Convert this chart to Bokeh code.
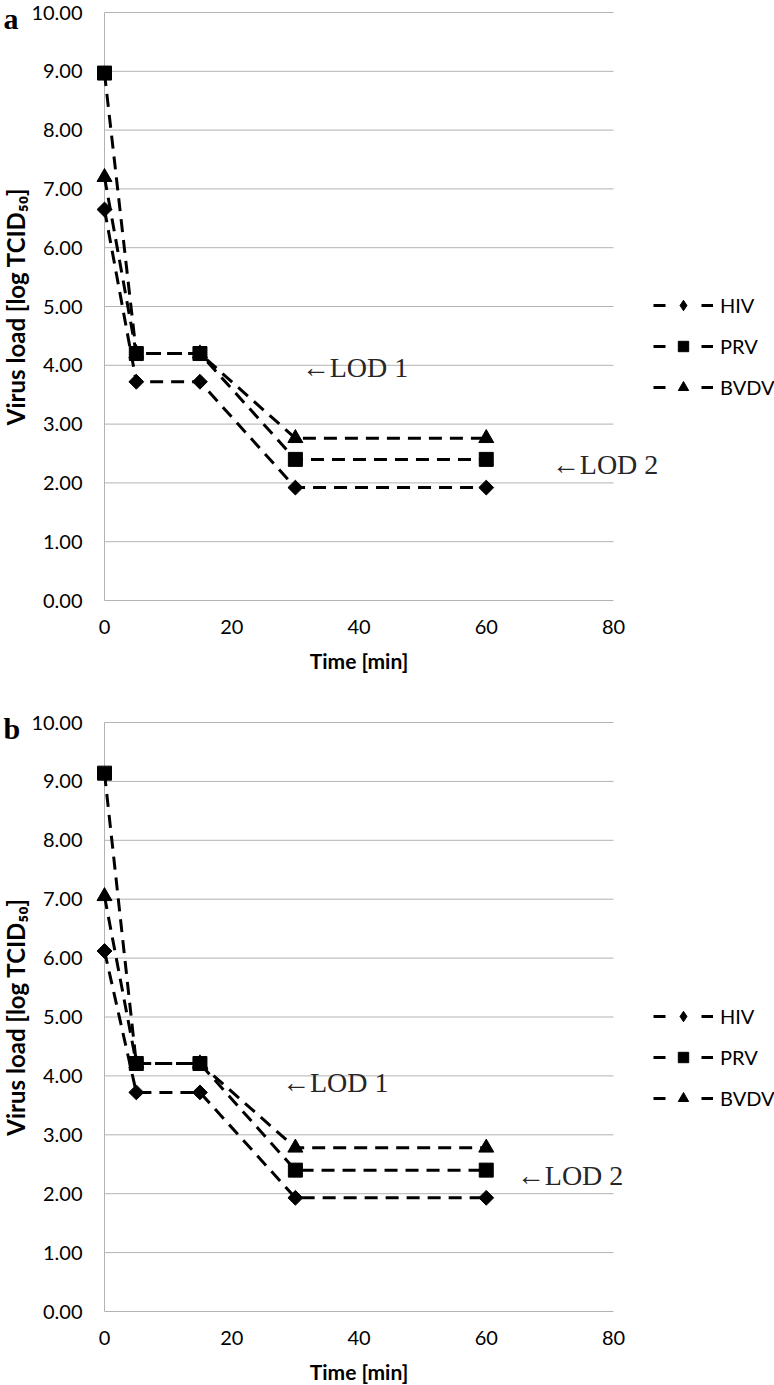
import math
from bokeh.plotting import figure
from bokeh.layouts import column
from bokeh.models import Legend, LegendItem, Label, Range1d
from bokeh.core.properties import value
from bokeh.embed import file_html
from bokeh.resources import INLINE

# ---------------- data ----------------
time_min = [0, 5, 15, 30, 60]
series_names = ["HIV", "PRV", "BVDV"]

a_hiv = [6.65, 3.72, 3.72, 1.92, 1.92]
a_prv = [8.97, 4.20, 4.20, 2.40, 2.40]
a_bvdv = [7.20, 4.20, 4.20, 2.76, 2.76]

b_hiv = [6.12, 3.72, 3.72, 1.93, 1.93]
b_prv = [9.14, 4.21, 4.21, 2.40, 2.40]
b_bvdv = [7.05, 4.21, 4.21, 2.78, 2.78]

y_ticks = [0, 1, 2, 3, 4, 5, 6, 7, 8, 9, 10]
x_ticks = [0, 20, 40, 60, 80]
x_min, x_max = 0, 80
y_min, y_max = 0, 10

lod_labels = ["\u2190LOD 1", "\u2190LOD 2"]
y_title = "Virus load [log TCID\u2085\u2080]"
x_title = "Time [min]"

SANS = "Lato"
SERIF = "Liberation Serif"
GRID = "#b3b3b3"
W = 774
NAN = float("nan")


def make_panel(letter, hiv, prv, bvdv, lod1, lod2, height, top_px, zero_px,
               ten_px, leg_y, letter_dy):
    # page-pixel geometry of the plotting area -> data ranges of the canvas
    left_px, x0_px, x80_px = 0, 104, 613
    sx = (x80_px - x0_px) / (x_max - x_min)
    sy = (zero_px - ten_px) / (y_max - y_min)
    xr = Range1d((left_px - x0_px) / sx, (left_px + W - x0_px) / sx)
    yr = Range1d((zero_px - (top_px + height)) / sy, (zero_px - top_px) / sy)

    p = figure(width=W, height=height, x_range=xr, y_range=yr,
               output_backend="svg", toolbar_location=None,
               x_axis_type=None, y_axis_type=None,
               min_border=0, min_border_left=0, min_border_right=0,
               min_border_top=0, min_border_bottom=0)
    p.outline_line_color = None
    p.grid.visible = False

    # gridlines + axis lines
    p.segment(x0=[x_min] * len(y_ticks), x1=[x_max] * len(y_ticks),
              y0=y_ticks, y1=y_ticks, line_color=GRID, line_width=1)
    p.segment(x0=[x_min], x1=[x_min], y0=[y_min], y1=[y_max],
              line_color=GRID, line_width=1)

    # tick labels
    p.text(x=[x_min] * len(y_ticks), y=y_ticks,
           text=["%.2f" % v for v in y_ticks], x_offset=-22,
           text_align="right", text_baseline="middle",
           text_font=value(SANS), text_font_size=value("20px"),
           text_color="black")
    p.text(x=x_ticks, y=[y_min] * len(x_ticks),
           text=[str(v) for v in x_ticks], y_offset=19,
           text_align="center", text_baseline="top",
           text_font=value(SANS), text_font_size=value("20px"),
           text_color="black")
    # axis titles
    p.text(x=[(x_min + x_max) / 2], y=[y_min], text=[x_title], y_offset=47,
           text_align="center", text_baseline="top",
           text_font=value(SANS), text_font_size=value("21px"),
           text_font_style="bold", text_color="black")
    p.text(x=[x_min], y=[(y_min + y_max) / 2], text=[y_title], x_offset=-89,
           angle=math.pi / 2, text_align="center", text_baseline="middle",
           text_font=value(SANS), text_font_size=value("24px"),
           text_font_style="bold", text_color="black")
    # panel letter
    p.text(x=[x_min], y=[y_max], text=[letter], x_offset=-101,
           y_offset=letter_dy, text_align="left",
           text_baseline="alphabetic", text_font=value(SERIF),
           text_font_size=value("30px"), text_font_style="bold",
           text_color="black")

    dash = "13 8"
    lw = 3
    specs = {
        "HIV": (hiv, dict(marker="square", size=10.5, angle=math.pi / 4)),
        "PRV": (prv, dict(marker="square", size=14)),
        "BVDV": (bvdv, dict(marker="triangle", size=15)),
    }
    legend_markers = {"HIV": "diamond", "PRV": "square", "BVDV": "triangle"}
    # BVDV first, then HIV, then PRV so the squares sit on top
    for name in ["BVDV", "HIV", "PRV"]:
        vals, mk = specs[name]
        p.line(time_min, vals, line_color="black", line_width=lw,
               line_dash=dash)
        p.scatter(time_min, vals, fill_color="black", line_color="black",
                  **mk)

    # legend keys: renderers holding a single NaN point (nothing is plotted)
    items = []
    for name in series_names:
        kl = p.line([NAN], [NAN], line_color="black", line_width=lw,
                    line_dash="12 36")
        ks = p.scatter([NAN], [NAN], fill_color="black", line_color="black",
                       marker=legend_markers[name])
        items.append(LegendItem(label=name, renderers=[kl, ks]))

    legend = Legend(items=items, location=(653, leg_y))
    legend.border_line_color = None
    legend.background_fill_alpha = 0
    legend.padding = 0
    legend.margin = 0
    legend.spacing = 15
    legend.glyph_width = 60
    legend.glyph_height = 26
    legend.label_height = 26
    legend.label_standoff = 7
    legend.label_text_font = SANS
    legend.label_text_font_size = "20px"
    legend.label_text_color = "black"
    p.add_layout(legend)

    for txt, (lx, ly) in zip(lod_labels, [lod1, lod2]):
        p.add_layout(Label(x=lx, y=ly, text=txt, text_font=SERIF,
                           text_font_size="28px", text_baseline="middle",
                           text_align="left", text_color="#262626"))
    return p


pa = make_panel("a", a_hiv, a_prv, a_bvdv, (31.0, 3.97), (70.3, 2.31),
                695, 0, 600, 12, 295, 6)
pb = make_panel("b", b_hiv, b_prv, b_bvdv, (27.9, 3.89), (64.8, 2.31),
                690, 695, 1311, 722, 274, 6)

layout = column(pa, pb, spacing=0)
open("out.html", "w").write(file_html(layout, INLINE))
